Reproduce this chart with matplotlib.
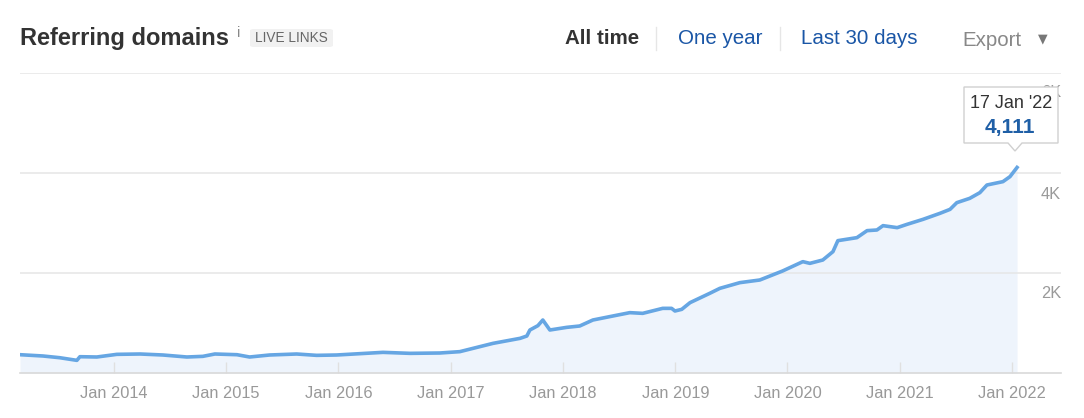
import matplotlib
matplotlib.use('Agg')
import matplotlib.pyplot as plt
import pandas as pd
from matplotlib.patches import Polygon, FancyBboxPatch

# ---------------- data ----------------
dates = ['2013-03-01', '2013-05-15', '2013-07-08', '2013-09-02', '2013-09-12',
         '2013-11-06', '2014-01-10', '2014-03-27', '2014-06-09', '2014-08-26',
         '2014-10-17', '2014-11-25', '2015-02-05', '2015-03-18', '2015-05-22',
         '2015-08-18', '2015-10-22', '2015-12-26', '2016-05-25', '2016-08-21',
         '2016-11-26', '2017-01-30', '2017-05-18', '2017-08-14', '2017-09-05',
         '2017-09-15', '2017-10-11', '2017-10-27', '2017-11-19', '2018-01-13',
         '2018-02-24', '2018-04-08', '2018-06-12', '2018-08-06', '2018-09-17',
         '2018-11-21', '2018-12-20', '2018-12-31', '2019-01-22', '2019-02-18',
         '2019-04-23', '2019-05-26', '2019-07-30', '2019-10-03', '2019-12-16',
         '2020-02-20', '2020-03-14', '2020-04-25', '2020-05-28', '2020-06-13',
         '2020-08-14', '2020-09-16', '2020-10-18', '2020-11-07', '2020-12-23',
         '2021-01-24', '2021-03-17', '2021-05-11', '2021-06-13', '2021-07-05',
         '2021-08-16', '2021-09-18', '2021-10-11', '2021-12-02', '2021-12-25',
         '2022-01-17']
values = [366, 340, 306, 253, 326,
          320, 373, 380, 360, 320,
          333, 380, 366, 320, 360,
          380, 353, 360, 413, 393,
          400, 427, 593, 693, 740,
          860, 947, 1060, 860, 913,
          940, 1060, 1140, 1207, 1193,
          1293, 1293, 1240, 1273, 1407,
          1593, 1693, 1807, 1860, 2040,
          2227, 2193, 2260, 2427, 2647,
          2707, 2847, 2860, 2947, 2907,
          2973, 3073, 3193, 3273, 3407,
          3493, 3607, 3760, 3827, 3927,
          4111]
xtick_dates = ['2014-01-01', '2015-01-01', '2016-01-01', '2017-01-01', '2018-01-01',
               '2019-01-01', '2020-01-01', '2021-01-01', '2022-01-01']
xtick_labels = ['Jan 2014', 'Jan 2015', 'Jan 2016', 'Jan 2017', 'Jan 2018',
                'Jan 2019', 'Jan 2020', 'Jan 2021', 'Jan 2022']
ytick_values = [2000, 4000, 6000]
ytick_labels = ['2K', '4K', '6K']
title = 'Referring domains'
badge = 'LIVE LINKS'
tooltip_date = "17 Jan '22"
tooltip_value = '4,111'
nav_items = ['All time', 'One year', 'Last 30 days']
export_label = 'Export'

# ---------------- figure ----------------
W, H = 1084, 418
plt.rcParams['font.family'] = ['Liberation Sans', 'DejaVu Sans']
fig = plt.figure(figsize=(W / 100, H / 100), dpi=100)
fig.patch.set_facecolor('white')


def fx(x):
    return x / W


def fy(y):
    return 1 - y / H


ax = fig.add_axes([fx(20), 45 / H, (1061 - 20) / W, 300 / H])
d = pd.to_datetime(dates)
ax.fill_between(d, values, 0, color='#eef4fc', lw=0, zorder=1)
ax.plot(d, values, color='#66a6e3', lw=2.6, zorder=3, solid_joinstyle='round')
ax.set_xlim(pd.Timestamp('2013-03-01'), pd.Timestamp('2022-06-09'))
ax.set_ylim(0, 6000)
for yv, yl in zip(ytick_values, ytick_labels):
    ax.axhline(yv, color='#e6e6e6', lw=1.1, zorder=2)
    off = -21 if yv < 6000 else -19
    ax.annotate(yl, xy=(1, yv), xycoords=('axes fraction', 'data'),
                xytext=(0, off), textcoords='offset pixels',
                ha='right', va='center', fontsize=11.8, color='#9a9a9a', zorder=2)

for s in ['top', 'left', 'right']:
    ax.spines[s].set_visible(False)
ax.spines['bottom'].set_color('#d9d9d9')
ax.spines['bottom'].set_linewidth(1.2)
ax.set_yticks([])
ax.set_xticks(pd.to_datetime(xtick_dates))
ax.set_xticklabels(xtick_labels)
ax.tick_params(axis='x', direction='in', length=8, width=1, color='#e0e0e0',
               labelsize=11.8, labelcolor='#999999', pad=9)
ax.set_facecolor('white')

# ---------------- header ----------------
fig.text(fx(20), fy(38), title, fontsize=17, fontweight='bold', color='#333333',
         ha='left', va='center')
fig.text(fx(238.5), fy(33), 'i', fontsize=10.5, color='#888888', ha='center', va='center')
badge_box = FancyBboxPatch((fx(250), fy(47)), fx(333) - fx(250), fy(29) - fy(47),
                           boxstyle='round,pad=0,rounding_size=0.004',
                           transform=fig.transFigure, facecolor='#f1f1f1',
                           edgecolor='none')
fig.add_artist(badge_box)
fig.text(fx(291.5), fy(38.5), badge, fontsize=9.8, color='#666666', ha='center', va='center')

fig.text(fx(565), fy(39), nav_items[0], fontsize=14.8, fontweight='bold', color='#333333',
         ha='left', va='center')
fig.text(fx(678), fy(39), nav_items[1], fontsize=14.8, color='#1a56a6', ha='left', va='center')
fig.text(fx(801), fy(39), nav_items[2], fontsize=14.8, color='#1a56a6', ha='left', va='center')
fig.text(fx(962), fy(40), export_label, fontsize=14.8, color='#888888', ha='left', va='center')
fig.text(fx(1043), fy(39), '\u25BC', fontsize=9, color='#777777', ha='center', va='center',
         family=['DejaVu Sans'])
for sx in [656, 780]:
    fig.add_artist(plt.Line2D([fx(sx), fx(sx)], [fy(27), fy(50)], transform=fig.transFigure,
                              color='#e6e6e6', lw=1))

# ---------------- tooltip ----------------
tip = Polygon([(fx(964), fy(87)), (fx(1058), fy(87)), (fx(1058), fy(143)),
               (fx(1022), fy(143)), (fx(1015), fy(151)), (fx(1008), fy(143)),
               (fx(964), fy(143))], closed=True, transform=fig.transFigure,
              facecolor='white', edgecolor='#d0d0d0', lw=1, zorder=5)
fig.add_artist(tip)
fig.text(fx(1011), fy(103), tooltip_date, fontsize=13, color='#333333', ha='center',
         va='center', zorder=6)
fig.text(fx(1010), fy(127), tooltip_value, fontsize=15, fontweight='bold', color='#1f5fa6',
         ha='center', va='center', zorder=6)

fig.savefig('out.png', dpi=100, facecolor='white')
